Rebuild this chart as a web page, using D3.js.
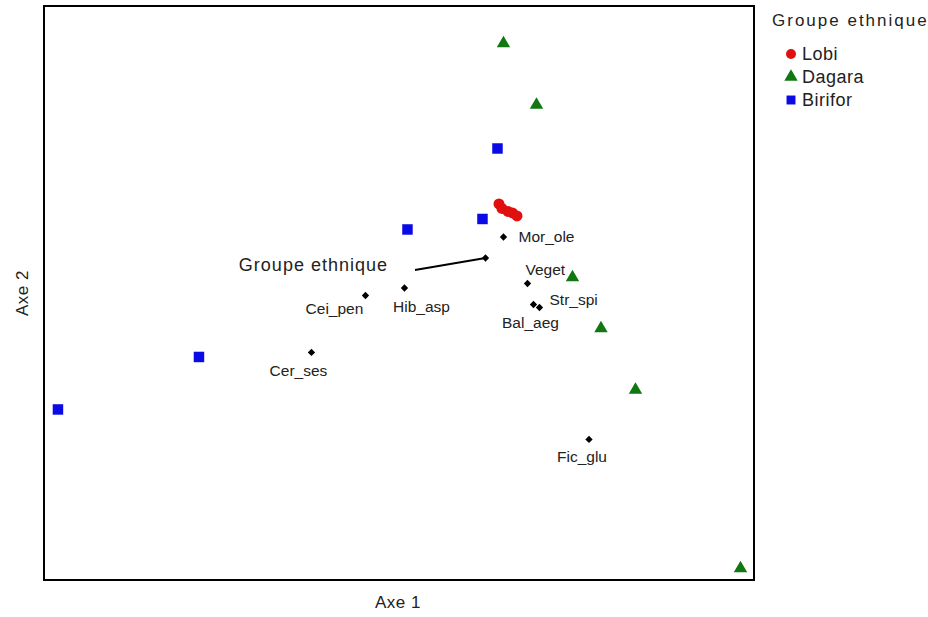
<!DOCTYPE html>
<html><head><meta charset="utf-8">
<script src="https://cdn.jsdelivr.net/npm/d3@7"></script>
<style>body{margin:0;background:#fff;} text{font-family:"Liberation Sans",Arial,sans-serif;}</style>
</head><body>
<svg id="chart" width="928" height="617"></svg>
<script>
// ---- data (CCA scores, Axe 1 / Axe 2) ----
const groups = ["Lobi", "Dagara", "Birifor"];
const lobiX = [0.56, 0.58, 0.62, 0.65, 0.68];
const lobiY = [0.44, 0.41, 0.39, 0.38, 0.36];
const dagaraX = [0.59, 0.81, 1.05, 1.24, 1.47, 2.17];
const dagaraY = [1.51, 1.10, -0.05, -0.39, -0.80, -1.99];
const biriforX = [0.55, -0.05, 0.45, -1.44, -2.38];
const biriforY = [0.81, 0.27, 0.34, -0.58, -0.93];
const species = ["Mor_ole", "Veget", "Str_spi", "Bal_aeg", "Hib_asp", "Cei_pen", "Cer_ses", "Fic_glu"];
const speciesX = [0.59, 0.75, 0.83, 0.79, -0.07, -0.33, -0.69, 1.16];
const speciesY = [0.22, -0.09, -0.25, -0.23, -0.12, -0.17, -0.55, -1.13];
const envVar = "Groupe ethnique";
const envX = [0.47];
const envY = [0.08];
const xDomain = [-2.473, 2.26];
const yDomain = [-2.067, 1.76];
const axisTitles = ["Axe 1", "Axe 2"];

// ---- styles / label placement ----
const colors = {Lobi: "#e01010", Dagara: "#117711", Birifor: "#0a0ae6"};
const labelOffsets = {
  Mor_ole: [15, 0, "start"], Veget: [-2, -14, "start"], Str_spi: [10, -8, "start"],
  Bal_aeg: [-3, 18, "middle"], Hib_asp: [17, 19, "middle"], Cei_pen: [-31, 13, "middle"],
  Cer_ses: [-13, 18, "middle"], Fic_glu: [-7, 17, "middle"]
};

const svg = d3.select("#chart");
const L = 44, R = 754, T = 6, B = 580;
const x = d3.scaleLinear().domain(xDomain).range([L, R]);
const y = d3.scaleLinear().domain(yDomain).range([B, T]);

svg.append("rect").attr("x", L).attr("y", T).attr("width", R - L).attr("height", B - T)
  .attr("fill", "#fff").attr("stroke", "#000").attr("stroke-width", 2);

// axis titles
svg.append("text").attr("x", (L + R) / 2 - 1).attr("y", 602).attr("text-anchor", "middle")
  .attr("dominant-baseline", "central").attr("font-size", 17).attr("letter-spacing", 0.5).attr("fill", "#222").text(axisTitles[0]);
svg.append("text").attr("transform", `translate(22,${(T + B) / 2}) rotate(-90)`).attr("text-anchor", "middle")
  .attr("dominant-baseline", "central").attr("font-size", 17).attr("letter-spacing", 0.5).attr("fill", "#222").text(axisTitles[1]);

const diamond = d3.symbol().type(d3.symbolDiamond2).size(34);

// environmental vector
svg.append("line").attr("x1", x(0)).attr("y1", y(0)).attr("x2", x(envX[0])).attr("y2", y(envY[0]))
  .attr("stroke", "#000").attr("stroke-width", 2);
svg.append("path").attr("d", diamond()).attr("transform", `translate(${x(envX[0])},${y(envY[0])})`).attr("fill", "#000");
svg.append("text").attr("x", x(0) - 27).attr("y", y(0) - 5).attr("text-anchor", "end")
  .attr("dominant-baseline", "central").attr("font-size", 18).attr("letter-spacing", 1).attr("fill", "#222").text(envVar);

// species
species.forEach((s, i) => {
  const px = x(speciesX[i]), py = y(speciesY[i]);
  svg.append("path").attr("d", diamond()).attr("transform", `translate(${px},${py})`).attr("fill", "#000");
  const o = labelOffsets[s];
  svg.append("text").attr("x", px + o[0]).attr("y", py + o[1]).attr("text-anchor", o[2])
    .attr("dominant-baseline", "central").attr("font-size", 15.5).attr("fill", "#222").text(s);
});

// samples
const sq = d3.symbol().type(d3.symbolSquare).size(110);
const tri = d3.symbol().type(d3.symbolTriangle).size(78);
biriforX.forEach((v, i) => svg.append("path").attr("d", sq()).attr("transform", `translate(${x(v)},${y(biriforY[i])})`).attr("fill", colors.Birifor));
dagaraX.forEach((v, i) => svg.append("path").attr("d", tri()).attr("transform", `translate(${x(v)},${y(dagaraY[i])})`).attr("fill", colors.Dagara));
lobiX.forEach((v, i) => svg.append("circle").attr("cx", x(v)).attr("cy", y(lobiY[i])).attr("r", 5.5).attr("fill", colors.Lobi));

// legend
svg.append("text").attr("x", 772).attr("y", 20).attr("dominant-baseline", "central").attr("font-size", 17)
  .attr("letter-spacing", 2).attr("fill", "#222").text("Groupe ethnique");
groups.forEach((g, i) => {
  const cy = 54 + i * 23;
  if (g === "Lobi") svg.append("circle").attr("cx", 791).attr("cy", cy).attr("r", 5).attr("fill", colors[g]);
  else if (g === "Dagara") svg.append("path").attr("d", tri()).attr("transform", `translate(791,${cy})`).attr("fill", colors[g]);
  else svg.append("path").attr("d", d3.symbol().type(d3.symbolSquare).size(80)()).attr("transform", `translate(791,${cy})`).attr("fill", colors[g]);
  svg.append("text").attr("x", 802).attr("y", cy).attr("dominant-baseline", "central").attr("font-size", 18)
    .attr("letter-spacing", 0.5).attr("fill", "#222").text(g);
});
</script>
</body></html>
